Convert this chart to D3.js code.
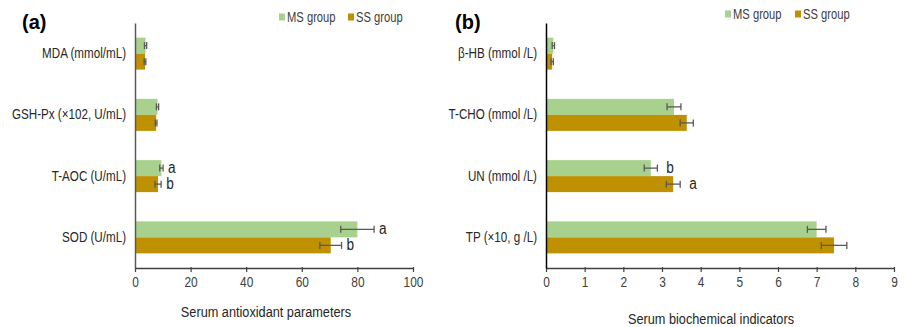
<!DOCTYPE html>
<html><head><meta charset="utf-8">
<script src="https://cdn.jsdelivr.net/npm/d3@7/dist/d3.min.js"></script>
<style>
html,body{margin:0;padding:0;background:#fff;}
svg{display:block;font-family:"Liberation Sans",Arial,sans-serif;}
</style></head><body>
<svg id="chart" width="909" height="327"></svg>
<script>
const seriesNames = ["MS group", "SS group"];
const catsA = ["MDA (mmol/mL)", "GSH-Px (×102, U/mL)", "T-AOC (U/mL)", "SOD (U/mL)"];
const msA = [3.8, 8.1, 9.5, 80.0];
const msAErr = [0.4, 0.4, 0.6, 6.0];
const ssA = [3.6, 7.6, 8.3, 70.4];
const ssAErr = [0.3, 0.3, 1.1, 3.9];
const msALetters = ["", "", "a", "a"];
const ssALetters = ["", "", "b", "b"];
const ticksA = [0, 20, 40, 60, 80, 100];

const catsB = ["β-HB (mmol /L)", "T-CHO (mmol /L)", "UN (mmol /L)", "TP (×10, g /L)"];
const msB = [0.19, 3.31, 2.71, 7.0];
const msBErr = [0.03, 0.18, 0.17, 0.24];
const ssB = [0.16, 3.64, 3.29, 7.45];
const ssBErr = [0.03, 0.17, 0.18, 0.33];
const msBLetters = ["", "", "b", ""];
const ssBLetters = ["", "", "a", ""];
const ticksB = [0, 1, 2, 3, 4, 5, 6, 7, 8, 9];

const colors = ["#a9d18e", "#bf9000"];
const svg = d3.select("#chart");

function narrow(sel, f) {
  sel.each(function () {
    const w = this.getComputedTextLength();
    d3.select(this).attr("textLength", w * f).attr("lengthAdjust", "spacingAndGlyphs");
  });
}

function panel(cfg) {
  const g = svg.append("g");
  const x = d3.scaleLinear().domain(cfg.domain).range([cfg.x0, cfg.x1]);
  const y = d3.scaleBand().domain(cfg.cats).range([23, 268]);
  const inner = d3.scaleBand().domain(seriesNames).range([0, y.bandwidth()]).paddingOuter(0.914);
  const data = [];
  cfg.cats.forEach((c, i) => {
    data.push({c, s: seriesNames[0], v: cfg.ms[i], e: cfg.msErr[i], l: cfg.msL[i]});
    data.push({c, s: seriesNames[1], v: cfg.ss[i], e: cfg.ssErr[i], l: cfg.ssL[i]});
  });
  const cy = d => y(d.c) + inner(d.s) + inner.bandwidth() / 2;
  g.selectAll("rect.bar").data(data).join("rect")
    .attr("x", x(0)).attr("y", d => y(d.c) + inner(d.s))
    .attr("width", d => x(d.v) - x(0)).attr("height", inner.bandwidth())
    .attr("fill", d => colors[seriesNames.indexOf(d.s)]);
  // error bars
  const eg = g.selectAll("g.err").data(data).join("g").attr("stroke", "#595959").attr("stroke-width", 1.3);
  eg.append("line").attr("x1", d => x(d.v - d.e)).attr("x2", d => x(d.v + d.e))
    .attr("y1", cy).attr("y2", cy);
  eg.append("line").attr("x1", d => x(d.v - d.e)).attr("x2", d => x(d.v - d.e))
    .attr("y1", d => cy(d) - 3.5).attr("y2", d => cy(d) + 3.5);
  eg.append("line").attr("x1", d => x(d.v + d.e)).attr("x2", d => x(d.v + d.e))
    .attr("y1", d => cy(d) - 3.5).attr("y2", d => cy(d) + 3.5);
  // letters
  g.selectAll("text.lt").data(data.filter(d => d.l)).join("text")
    .attr("x", d => x(d.v + d.e) + cfg.lgap).attr("y", d => cy(d) + 5)
    .attr("font-size", 16).attr("fill", "#262626").text(d => d.l)
    .call(narrow, 0.85);
  // x axis
  const xa = g.append("g").attr("transform", "translate(0,268)")
    .call(d3.axisBottom(x).tickValues(cfg.ticks).tickSize(4).tickSizeOuter(0).tickPadding(5));
  xa.select(".domain").attr("stroke", "#404040").attr("stroke-width", 1.3);
  xa.selectAll(".tick line").attr("stroke", "#404040").attr("stroke-width", 1.2).attr("y1", -1);
  xa.selectAll(".tick text").attr("font-size", 14).attr("fill", "#404040")
    .attr("font-family", "inherit").call(narrow, 0.85);
  // y axis
  const ya = g.append("g").attr("transform", `translate(${cfg.x0},0)`)
    .call(d3.axisLeft(y).tickSize(0).tickPadding(9));
  ya.select(".domain").attr("stroke", cfg.yAxisColor).attr("stroke-width", 1.5);
  ya.selectAll(".tick text").attr("font-size", 14).attr("fill", "#262626").attr("font-family", "inherit")
    .call(narrow, 0.83);
  // axis title
  g.append("text").attr("x", cfg.titleX).attr("y", cfg.titleY).attr("text-anchor", "middle")
    .attr("font-size", 15.5).attr("fill", "#262626").text(cfg.title).call(narrow, 0.82);
  // panel label
  g.append("text").attr("x", cfg.labelX).attr("y", 29).attr("font-size", 20).attr("font-weight", "bold")
    .attr("fill", "#000").text(cfg.label);
  // legend
  const lg = g.append("g");
  seriesNames.forEach((s, i) => {
    lg.append("rect").attr("x", cfg.legX[i]).attr("y", cfg.legY - 3.5).attr("width", 6).attr("height", 7).attr("fill", colors[i]);
    lg.append("text").attr("x", cfg.legX[i] + 8).attr("y", cfg.legY + 5).attr("font-size", 14).attr("fill", "#404040")
      .text(s).call(narrow, 0.8);
  });
}

panel({cats: catsA, ms: msA, msErr: msAErr, ss: ssA, ssErr: ssAErr, msL: msALetters, ssL: ssALetters,
  domain: [0, 100], ticks: ticksA, x0: 135, x1: 413, yAxisColor: "#595959", lgap: 5,
  title: "Serum antioxidant parameters", titleX: 266, titleY: 317, label: "(a)", labelX: 22,
  legX: [279, 348], legY: 17});
panel({cats: catsB, ms: msB, msErr: msBErr, ss: ssB, ssErr: ssBErr, msL: msBLetters, ssL: ssBLetters,
  domain: [0, 9], ticks: ticksB, x0: 546, x1: 894, yAxisColor: "#000", lgap: 9,
  title: "Serum biochemical indicators", titleX: 711, titleY: 324, label: "(b)", labelX: 455,
  legX: [725, 795], legY: 14});
</script>
</body></html>
